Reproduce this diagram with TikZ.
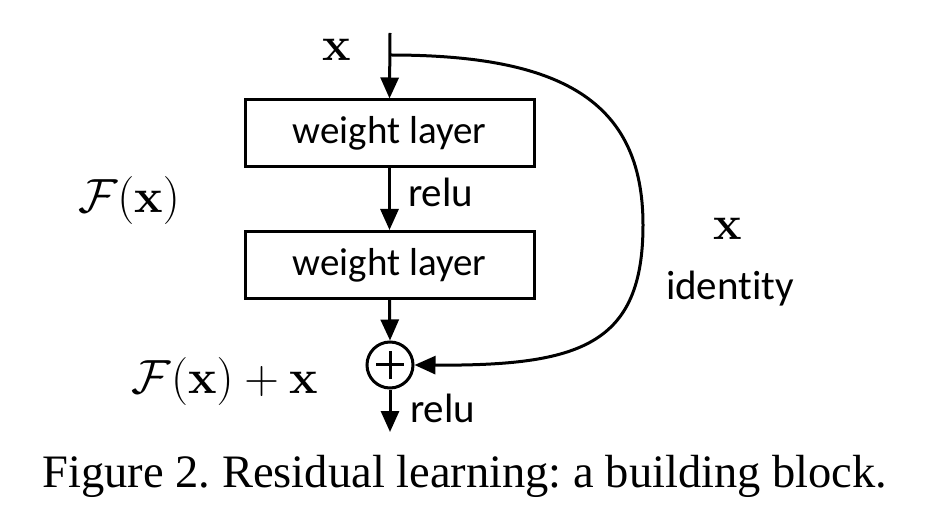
\RequirePackage{fix-cm}
\documentclass[tikz,border=0pt]{standalone}
\usepackage[no-math]{fontspec}
\setmainfont{Liberation Serif}
\newfontfamily\lblfont[Ligatures=NoCommon]{Carlito}
\usetikzlibrary{arrows.meta}
\tikzset{
  conn/.style={line width=3pt,-{Triangle[length=21pt,width=18pt]}},
  wbox/.style={draw,line width=3pt,minimum width=289pt,minimum height=67pt,inner sep=0pt,
    font=\fontsize{39}{44}\selectfont\lblfont},
  lbl/.style={inner sep=0pt,font=\fontsize{41}{46}\selectfont\lblfont},
  mth/.style={inner sep=0pt,font=\fontsize{48}{54}\selectfont},
  plusc/.style={draw,circle,line width=3pt,minimum size=46pt,inner sep=0pt,
    path picture={\draw[line width=3pt]
      ([xshift=-14pt]path picture bounding box.center) -- ([xshift=14pt]path picture bounding box.center)
      ([yshift=-14pt]path picture bounding box.center) -- ([yshift=14pt]path picture bounding box.center);}}
}
\begin{document}
\frenchspacing
\begin{tikzpicture}[x=1pt,y=-1pt]
\useasboundingbox (0,0) rectangle (926,526);
\coordinate (in) at (390,33);
\coordinate (br) at (390,55);
\coordinate (out) at (390,432);
\node[wbox] (w1) at (389.5,133.5) {weight layer};
\node[wbox] (w2) at (389.5,265) {weight layer};
\node[plusc] (add) at (390,365) {};
\draw[conn] (in) -- (w1.north);
\draw[conn] (w1.south) -- (w2.north);
\draw[conn] (w2.south) -- (add.north);
\draw[conn] (add.south) -- (out);
\draw[conn] (br) .. controls (560,55) and (643,100) .. (643,225)
  .. controls (643,345) and (580,366) .. (add.east);
\node[mth] (xin) at (337,50) {$\mathbf{x}$};
\node[mth] (xid) at (728,229) {$\mathbf{x}$};
\node[lbl,anchor=base] (ident) at (730,300) {identity};
\node[lbl,anchor=base west] (relu1) at (408,207) {relu};
\node[lbl,anchor=base west] (relu2) at (410,422) {relu};
\node[mth,anchor=base] (fx) at (129,213) {$\mathcal{F}(\mathbf{x})$};
\node[mth,anchor=base] (fxx) at (225,393) {$\mathcal{F}(\mathbf{x})+\mathbf{x}$};
\node[inner sep=0pt,anchor=base,font=\fontsize{46.5}{52}\selectfont] (cap) at (465,487) {Figure 2. Residual learning: a building block.};
\end{tikzpicture}
\end{document}
